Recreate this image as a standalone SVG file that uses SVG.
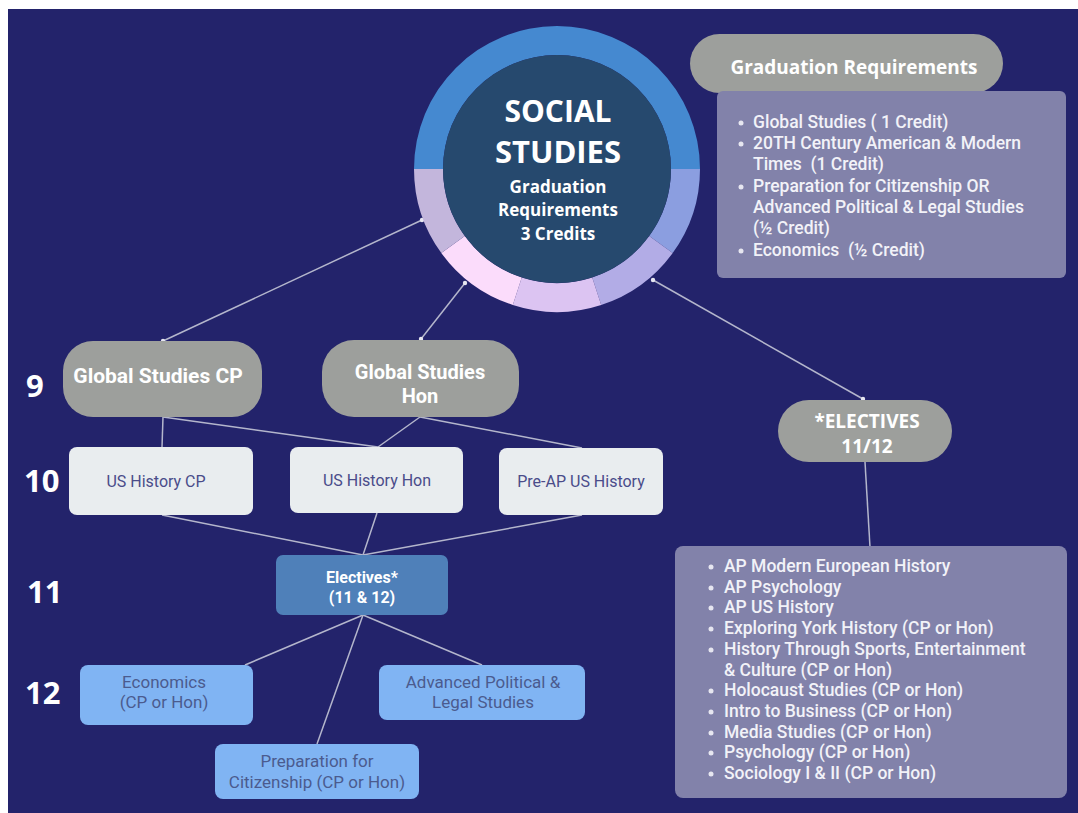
<svg xmlns="http://www.w3.org/2000/svg" width="1078" height="813" viewBox="0 0 1078 813">
<style>
.bg{fill:#23236b}
.pill{fill:#9d9f9c}
.lav{fill:#8282aa}
.white{fill:#e9edef}
.lblue{fill:#80b4f3}
.conn{stroke:#b4b6cc;stroke-width:1.5;fill:none}
.dot{fill:#e6e6f0}
.hd{font-family:Roboto,"Liberation Sans",sans-serif;font-weight:700;fill:#ffffff;text-anchor:middle}
.nd{font-family:Roboto,"Liberation Sans",sans-serif;font-size:16px;fill:#4a4c8a;text-anchor:middle}
.nb{font-family:Roboto,"Liberation Sans",sans-serif;font-size:17px;fill:#4b5b8e;text-anchor:middle}
.lst{font-family:Roboto,"Liberation Sans",sans-serif;font-size:17.5px;font-weight:500;fill:#f2f2f8}
.num{font-family:"Open Sans","Liberation Sans",sans-serif;font-weight:700;font-size:31px;fill:#ffffff}
.ct{font-family:"Open Sans","Liberation Sans",sans-serif;font-weight:700;fill:#ffffff;text-anchor:middle}
</style>
<rect class="bg" x="8" y="9" width="1070" height="804"/>

<g id="connectors">
  <line class="conn" x1="422" y1="220" x2="163" y2="341"/>
  <line class="conn" x1="465" y1="283" x2="421" y2="339"/>
  <line class="conn" x1="653" y1="280" x2="863" y2="399"/>
  <circle class="dot" cx="422" cy="220" r="2.2"/>
  <circle class="dot" cx="465" cy="283" r="2.2"/>
  <circle class="dot" cx="653" cy="280" r="2.2"/>
  <circle class="dot" cx="163" cy="341" r="2.2"/>
  <circle class="dot" cx="421" cy="339" r="2.2"/>
  <circle class="dot" cx="863" cy="399" r="2.2"/>
  <line class="conn" x1="163" y1="417" x2="162" y2="447"/>
  <line class="conn" x1="163" y1="417" x2="378" y2="447"/>
  <line class="conn" x1="420" y1="417" x2="378" y2="447"/>
  <line class="conn" x1="420" y1="417" x2="582" y2="448"/>
  <line class="conn" x1="162" y1="515" x2="363" y2="555"/>
  <line class="conn" x1="377" y1="513" x2="363" y2="555"/>
  <line class="conn" x1="582" y1="515" x2="363" y2="555"/>
  <line class="conn" x1="363" y1="615" x2="245" y2="665"/>
  <line class="conn" x1="363" y1="615" x2="317" y2="744"/>
  <line class="conn" x1="363" y1="615" x2="482" y2="665"/>
  <line class="conn" x1="865" y1="462" x2="870" y2="547"/>
</g>

<g id="grade-labels">
  <text class="num" x="26" y="397">9</text>
  <text class="num" x="24" y="492">10</text>
  <text class="num" x="27" y="603">11</text>
  <text class="num" x="25" y="704">12</text>
</g>

<g id="social-studies">
  <path d="M414 169 A143 143 0 0 1 700 169 L671 169 A114 114 0 0 0 443 169 Z" fill="#4589d0"/>
  <path d="M700 169 A143 143 0 0 1 672.69 253.06 L649.23 236.01 A114 114 0 0 0 671 169 Z" fill="#8b9ee0"/>
  <path d="M672.69 253.06 A143 143 0 0 1 601.19 305.01 L592.23 277.43 A114 114 0 0 0 649.23 236.01 Z" fill="#b2ace6"/>
  <path d="M601.19 305.01 A143 143 0 0 1 512.81 305.01 L521.77 277.43 A114 114 0 0 0 592.23 277.43 Z" fill="#dcc4f2"/>
  <path d="M512.81 305.01 A143 143 0 0 1 441.31 253.06 L464.77 236.01 A114 114 0 0 0 521.77 277.43 Z" fill="#fbdcfb"/>
  <path d="M441.31 253.06 A143 143 0 0 1 414 169 L443 169 A114 114 0 0 0 464.77 236.01 Z" fill="#c3b6dc"/>
  <circle cx="557" cy="169" r="114" fill="#26496e"/>
  <text class="ct" x="558" y="122" font-size="30">SOCIAL</text>
  <text class="ct" x="558" y="163" font-size="31">STUDIES</text>
  <text class="ct" x="558" y="193" font-size="17">Graduation</text>
  <text class="ct" x="558" y="216" font-size="17">Requirements</text>
  <text class="ct" x="558" y="240" font-size="17">3 Credits</text>
</g>

<g id="grad-req-title">
  <rect class="pill" x="690" y="34" width="313" height="59" rx="29.5"/>
  <text class="ct" x="854" y="74" font-size="19">Graduation Requirements</text>
</g>

<g id="grad-req-list">
  <rect class="lav" x="717" y="91" width="349" height="187" rx="6"/>
  <circle class="dot" cx="741" cy="123" r="2.5"/>
  <circle class="dot" cx="741" cy="144" r="2.5"/>
  <circle class="dot" cx="741" cy="187" r="2.5"/>
  <circle class="dot" cx="741" cy="251" r="2.5"/>
  <text class="lst" x="753" y="128">Global Studies ( 1 Credit)</text>
  <text class="lst" x="753" y="149">20TH Century American &amp; Modern</text>
  <text class="lst" x="753" y="170" xml:space="preserve">Times  (1 Credit)</text>
  <text class="lst" x="753" y="192">Preparation for Citizenship OR</text>
  <text class="lst" x="753" y="213">Advanced Political &amp; Legal Studies</text>
  <text class="lst" x="753" y="234">(½ Credit)</text>
  <text class="lst" x="753" y="256" xml:space="preserve">Economics  (½ Credit)</text>
</g>

<g id="global-studies-cp">
  <rect class="pill" x="63" y="341" width="199" height="76" rx="30"/>
  <text class="hd" x="158" y="383" font-size="21">Global Studies CP</text>
</g>

<g id="global-studies-hon">
  <rect class="pill" x="322" y="340" width="197" height="77" rx="32"/>
  <text class="hd" x="420" y="379" font-size="20">Global Studies</text>
  <text class="hd" x="420" y="403" font-size="20">Hon</text>
</g>

<g id="electives-1112">
  <rect class="pill" x="778" y="400" width="174" height="62" rx="31"/>
  <text class="ct" x="867" y="428" font-size="19">*ELECTIVES</text>
  <text class="ct" x="867" y="453" font-size="19">11/12</text>
</g>

<g id="us-history-cp">
  <rect class="white" x="69" y="447" width="184" height="68" rx="8"/>
  <text class="nd" x="156" y="487">US History CP</text>
</g>

<g id="us-history-hon">
  <rect class="white" x="290" y="447" width="173" height="66" rx="8"/>
  <text class="nd" x="377" y="486">US History Hon</text>
</g>

<g id="pre-ap-us-history">
  <rect class="white" x="499" y="448" width="164" height="67" rx="8"/>
  <text class="nd" x="581" y="487">Pre-AP US History</text>
</g>

<g id="electives">
  <rect x="276" y="555" width="172" height="60" rx="7" fill="#4f80b9"/>
  <text class="hd" x="362" y="583" font-size="16" font-weight="500">Electives*</text>
  <text class="hd" x="362" y="603" font-size="16" font-weight="500">(11 &amp; 12)</text>
</g>

<g id="economics">
  <rect class="lblue" x="80" y="665" width="173" height="60" rx="8"/>
  <text class="nb" x="164" y="688">Economics</text>
  <text class="nb" x="164" y="708">(CP or Hon)</text>
</g>

<g id="advanced-political">
  <rect class="lblue" x="379" y="665" width="206" height="55" rx="8"/>
  <text class="nb" x="483" y="688">Advanced Political &amp;</text>
  <text class="nb" x="483" y="708">Legal Studies</text>
</g>

<g id="preparation-citizenship">
  <rect class="lblue" x="215" y="744" width="204" height="55" rx="8"/>
  <text class="nb" x="317" y="767">Preparation for</text>
  <text class="nb" x="317" y="788">Citizenship (CP or Hon)</text>
</g>

<g id="electives-list">
  <rect class="lav" x="675" y="546" width="392" height="252" rx="8"/>
  <circle class="dot" cx="711" cy="567" r="2.5"/>
  <circle class="dot" cx="711" cy="588" r="2.5"/>
  <circle class="dot" cx="711" cy="608" r="2.5"/>
  <circle class="dot" cx="711" cy="629" r="2.5"/>
  <circle class="dot" cx="711" cy="650" r="2.5"/>
  <circle class="dot" cx="711" cy="691" r="2.5"/>
  <circle class="dot" cx="711" cy="712" r="2.5"/>
  <circle class="dot" cx="711" cy="733" r="2.5"/>
  <circle class="dot" cx="711" cy="753" r="2.5"/>
  <circle class="dot" cx="711" cy="774" r="2.5"/>
  <text class="lst" x="724" y="572">AP Modern European History</text>
  <text class="lst" x="724" y="592.7">AP Psychology</text>
  <text class="lst" x="724" y="613.4">AP US History</text>
  <text class="lst" x="724" y="634.1">Exploring York History (CP or Hon)</text>
  <text class="lst" x="724" y="654.8">History Through Sports, Entertainment</text>
  <text class="lst" x="724" y="675.5">&amp; Culture (CP or Hon)</text>
  <text class="lst" x="724" y="696.2">Holocaust Studies (CP or Hon)</text>
  <text class="lst" x="724" y="716.9">Intro to Business (CP or Hon)</text>
  <text class="lst" x="724" y="737.6">Media Studies (CP or Hon)</text>
  <text class="lst" x="724" y="758.3">Psychology (CP or Hon)</text>
  <text class="lst" x="724" y="779">Sociology I &amp; II (CP or Hon)</text>
</g>
</svg>
